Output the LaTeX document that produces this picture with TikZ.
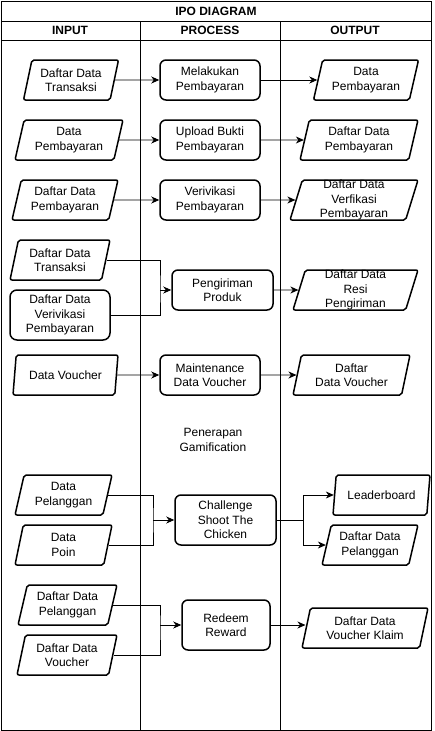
\documentclass[tikz,border=0pt]{standalone}
\usepackage{fontspec}
\setmainfont{Liberation Sans}
\usetikzlibrary{arrows.meta,shapes.geometric}

\begin{document}
\begin{tikzpicture}[x=1pt,y=-1pt,>={Stealth[length=8pt,width=7pt,inset=2.5pt]}]
                        \tikzstyle{every node} = [font=\fontsize{12}{14.4}\selectfont,align=center,inner sep=0pt];
                        \tikzstyle{head} = [font=\fontsize{12}{14.4}\selectfont\bfseries];
                        \tikzstyle{data} = [trapezium,trapezium left angle=70,trapezium right angle=110,trapezium stretches body,draw=black,line width=1.5pt,rounded corners=2pt,minimum height=40pt];
                        \tikzstyle{proc} = [rectangle,draw=black,line width=1.5pt,rounded corners=6pt,minimum width=100pt,minimum height=40pt];
                        \tikzstyle{line} = [line width=0.9pt];
                        \useasboundingbox (0,0) rectangle (434,731);
                        \draw[line] (1,1) rectangle (431,730);
                        \draw[line] (1,21) -- (431,21);
                        \draw[line] (1,40) -- (431,40);
                        \draw[line] (140,21) -- (140,730);
                        \draw[line] (280,21) -- (280,730);
                        \node[head] (title) at (216,11) {IPO DIAGRAM};
                        \node[head] (hin) at (70,30.5) {INPUT};
                        \node[head] (hproc) at (210,30.5) {PROCESS};
                        \node[head] (hout) at (355,30.5) {OUTPUT};
                        \node[data,minimum width=95pt] (in1) at (71,80) {Daftar Data\\Transaksi};
                        \node[proc] (p1) at (210,80) {Melakukan\\Pembayaran};
                        \node[data,minimum width=105pt] (out1) at (366,80) {Data\\Pembayaran};
                        \node[data,minimum width=108pt] (in2) at (69,140) {Data\\Pembayaran};
                        \node[proc] (p2) at (210,140) {Upload Bukti\\Pembayaran};
                        \node[data,minimum width=118pt] (out2) at (359,140) {Daftar Data\\Pembayaran};
                        \node[data,minimum width=106pt] (in3) at (65,200) {Daftar Data\\Pembayaran};
                        \node[proc] (p3) at (210,200) {Verivikasi\\Pembayaran};
                        \node[data,minimum width=128pt,inner ysep=-3pt] (out3) at (354,200) {Daftar Data\\Verfikasi\\Pembayaran};
                        \node[data,minimum width=100pt] (in4a) at (60,260) {Daftar Data\\Transaksi};
                        \node[proc,rounded corners=7pt,minimum height=50pt] (in4b) at (60,315) {Daftar Data\\Verivikasi\\Pembayaran};
                        \node[proc,minimum width=101pt] (p4) at (222.5,290) {Pengiriman\\Produk};
                        \node[data,minimum width=125pt,inner ysep=-3pt] (out4) at (355.5,290) {Daftar Data\\Resi\\Pengiriman};
                        \node[data,minimum width=105pt] (in5) at (65.5,375) {Data Voucher};
                        \node[proc] (p5) at (210,375) {Maintenance\\Data Voucher};
                        \node[data,minimum width=117pt] (out5) at (351.5,375) {Daftar\\Data Voucher};
                        \node (gam) at (213,440) {Penerapan\\Gamification};
                        \node[data,minimum width=97pt] (in6a) at (63.5,495) {Data\\Pelanggan};
                        \node[data,minimum width=97pt] (in6b) at (63.5,545) {Data\\Poin};
                        \node[proc,minimum width=101pt,minimum height=50pt] (p6) at (225.5,520) {Challenge\\Shoot The\\Chicken};
                        \node[data,minimum width=97pt] (out6a) at (381.5,495) {Leaderboard};
                        \node[data,minimum width=96pt] (out6b) at (370,545) {Daftar Data\\Pelanggan};
                        \node[data,minimum width=99pt] (in7a) at (67.5,605) {Daftar Data\\Pelanggan};
                        \node[data,minimum width=100pt] (in7b) at (67,655) {Daftar Data\\Voucher};
                        \node[proc,minimum width=88pt,minimum height=50pt] (p7) at (226,625) {Redeem\\Reward};
                        \node[data,minimum width=126pt] (out7) at (365,628) {Daftar Data\\Voucher Klaim};
                        \coordinate (j4) at (160,290);
                        \coordinate (j6) at (153,520);
                        \coordinate (k6) at (303,520);
                        \coordinate (j7) at (160,625);
                        \draw[line,->] (in1) -- (p1);
                        \draw[line,->] (p1) -- (out1);
                        \draw[line,->] (in2) -- (p2);
                        \draw[line,->] (p2) -- (out2);
                        \draw[line,->] (in3) -- (p3);
                        \draw[line,->] (p3) -- (out3);
                        \draw[line] (in4a.east) -| (j4) |- (in4b.east);
                        \draw[line,->] (j4) -- (p4);
                        \draw[line,->] (p4) -- (out4);
                        \draw[line,->] (in5) -- (p5);
                        \draw[line,->] (p5) -- (out5);
                        \draw[line] (in6a.east) -| (j6) |- (in6b.east);
                        \draw[line,->] (j6) -- (p6);
                        \draw[line] (p6) -- (k6);
                        \draw[line,->] (k6) |- (out6a);
                        \draw[line,->] (k6) |- (out6b);
                        \draw[line] (in7a.east) -| (j7) |- (in7b.east);
                        \draw[line,->] (j7) -- (p7);
                        \draw[line,->] (p7.east) -- (p7.east -| out7.west);
                    \end{tikzpicture}
\end{document}
